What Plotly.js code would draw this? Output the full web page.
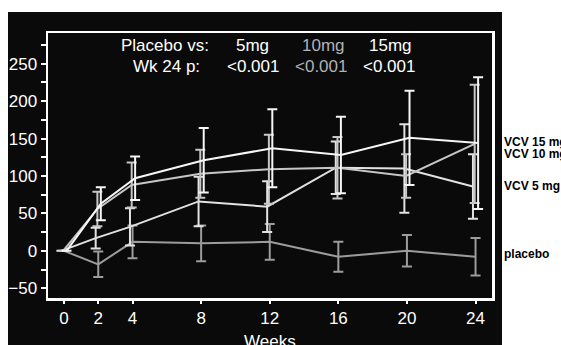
<!DOCTYPE html>
<html>
<head>
<meta charset="utf-8">
<script src="https://cdn.plot.ly/plotly-3.0.1.min.js"></script>
<style>html,body{margin:0;padding:0;background:#fff;}#chart{width:561px;height:345px;}</style>
</head>
<body>
<div id="chart"></div>
<script>
// ---- data ----
const weeks = [0, 2, 4, 8, 12, 16, 20, 24];
const vcv15 = [0, 63, 97, 121, 137, 128, 151, 144];
const se15  = [0, 22, 29, 43, 52, 51, 63, 88];
const vcv10 = [0, 56, 88, 103, 109, 111, 100, 143];
const se10  = [0, 23, 30, 32, 46, 41, 29, 79];
const vcv5  = [0, 17, 32, 66, 59, 111, 110, 86];
const se5   = [0, 14, 25, 33, 34, 35, 59, 43];
const placebo   = [0, -18, 12, 10, 12, -8, 0, -8];
const sePlacebo = [0, 17, 22, 24, 24, 20, 21, 25];
const xTickVals = [0, 2, 4, 8, 12, 16, 20, 24];
const xTitle = "Weeks";
const pHeader = ["Placebo vs:", "5mg", "10mg", "15mg"];
const pRow    = ["Wk 24 p:", "<0.001", "<0.001", "<0.001"];
const seriesLabels = ["VCV 15 mg", "VCV 10 mg", "VCV 5 mg", "placebo"];

const FONT = "Liberation Sans, Arial, Helvetica, sans-serif";

function series(y, se, color, shift) {
  return {
    x: weeks.map(w => w + shift), y: y, type: 'scatter', mode: 'lines',
    line: {color: color, width: 2},
    error_y: {type: 'data', array: se, visible: true, color: color, thickness: 2, width: 5},
    hoverinfo: 'skip', showlegend: false
  };
}

const traces = [
  series(placebo, sePlacebo, '#9c9c9c', 0),
  series(vcv5, se5, '#e2e2e2', -0.15),
  series(vcv10, se10, '#c6c6c6', -0.05),
  series(vcv15, se15, '#f6f6f6', 0.15)
];

const headerX = [0.2624, 0.4617, 0.6194, 0.7725];
const rowX = [0.268, 0.4617, 0.6149, 0.768];
const textColors = ['#ffffff', '#ffffff', '#b2b2b6', '#ffffff'];
const annotations = [];
pHeader.forEach((t, i) => annotations.push({
  text: t, xref: 'paper', yref: 'paper', x: headerX[i], y: 0.9547,
  xanchor: 'center', yanchor: 'middle', showarrow: false,
  font: {family: FONT, size: 17, color: textColors[i]}
}));
pRow.forEach((t, i) => annotations.push({
  text: t, xref: 'paper', yref: 'paper', x: rowX[i], y: 0.8717,
  xanchor: 'center', yanchor: 'middle', showarrow: false,
  font: {family: FONT, size: 17, color: textColors[i]}
}));
const labelY = [145, 130, 87, -4];
seriesLabels.forEach((t, i) => annotations.push({
  text: '<b>' + t + '</b>', xref: 'paper', yref: 'y', x: 1.0225, y: labelY[i],
  xanchor: 'left', yanchor: 'middle', showarrow: false,
  font: {family: FONT, size: 12, color: '#000000'}
}));
// x-axis title, placed low as in the reference (partly cut by the bottom edge)
annotations.push({
  text: xTitle, xref: 'paper', yref: 'paper', x: 0.5, y: -0.165,
  xanchor: 'center', yanchor: 'middle', showarrow: false,
  font: {family: FONT, size: 17, color: '#ffffff'}
});

const layout = {
  width: 561, height: 345,
  margin: {l: 48, r: 69, t: 33, b: 47, pad: 0},
  paper_bgcolor: '#ffffff', plot_bgcolor: '#0a0a0a',
  font: {family: FONT, color: '#ffffff'},
  showlegend: false,
  shapes: [{
    type: 'rect', xref: 'paper', yref: 'paper', layer: 'below',
    x0: -0.0901, x1: 1.0225, y0: -0.18, y1: 1.0792,
    fillcolor: '#0a0a0a', line: {width: 0}
  }],
  xaxis: {
    range: [-0.93, 24.96], tickmode: 'array', tickvals: xTickVals,
    ticktext: xTickVals.map(String),
    showgrid: false, zeroline: false,
    showline: true, mirror: true, linecolor: '#ffffff', linewidth: 2.5,
    ticks: 'outside', ticklen: 3, tickwidth: 2, tickcolor: '#ffffff',
    tickfont: {family: FONT, size: 17, color: '#ffffff'},
    automargin: false
  },
  yaxis: {
    range: [-63, 291], tickmode: 'linear', tick0: 0, dtick: 50,
    showgrid: false, zeroline: false,
    showline: true, mirror: true, linecolor: '#ffffff', linewidth: 2.5,
    ticks: 'outside', ticklen: 5, tickwidth: 2, tickcolor: '#ffffff',
    minor: {dtick: 25, ticks: 'outside', ticklen: 5, tickwidth: 2, tickcolor: '#ffffff'},
    tickfont: {family: FONT, size: 17, color: '#ffffff'},
    automargin: false
  },
  annotations: annotations
};

Plotly.newPlot('chart', traces, layout, {displayModeBar: false, staticPlot: true});
</script>
</body>
</html>
